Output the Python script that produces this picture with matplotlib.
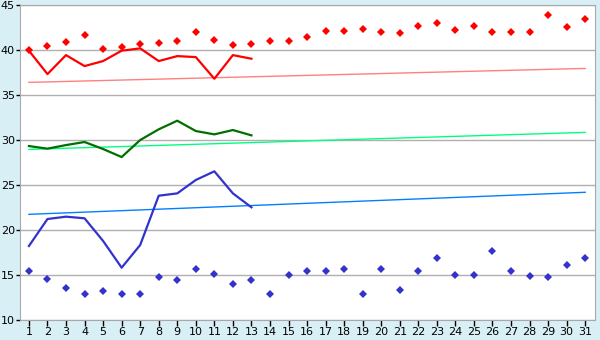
import numpy as np
import matplotlib
matplotlib.use("Agg")
import matplotlib.pyplot as plt

days = np.arange(1, 32)

# daily max / min points (whole month)
max_pts = [40.0, 40.4, 40.85, 41.67, 40.07, 40.3, 40.67, 40.74, 40.96, 41.96,
           41.07, 40.56, 40.67, 40.96, 40.96, 41.4, 42.07, 42.07, 42.3, 41.96,
           41.85, 42.63, 42.96, 42.19, 42.63, 41.96, 41.96, 41.96, 43.85, 42.52,
           43.4]
min_pts = [15.44, 14.52, 13.52, 12.85, 13.19, 12.85, 12.85, 14.74, 14.41, 15.63,
           15.07, 13.96, 14.41, 12.85, 14.96, 15.41, 15.41, 15.63, 12.85, 15.63,
           13.3, 15.41, 16.85, 14.96, 14.96, 17.63, 15.41, 14.85, 14.74, 16.07,
           16.85]

# current month lines (days 1-13)
line_days = np.arange(1, 14)
red_line = [39.93, 37.33, 39.44, 38.22, 38.78, 39.93, 40.19, 38.78, 39.33, 39.22,
            36.81, 39.44, 39.04]
green_line = [29.33, 29.04, 29.44, 29.78, 29.0, 28.11, 30.0, 31.19, 32.15, 31.0,
              30.63, 31.11, 30.52]
blue_line = [18.22, 21.22, 21.48, 21.3, 18.78, 15.81, 18.33, 23.81, 24.07, 25.56,
             26.52, 24.07, 22.52]

# trend lines, start and end values
red_trend = [36.41, 37.96]
green_trend = [28.96, 30.85]
blue_trend = [21.74, 24.19]

bg = "#d9eff6"
fig = plt.figure(figsize=(6, 3.4), dpi=100, facecolor=bg)
ax = fig.add_axes([0.034, 0.059, 0.958, 0.926])
ax.set_facecolor("white")

ax.set_xlim(0.54, 31.54)
ax.set_ylim(10, 45)
ax.set_yticks(range(10, 46, 5))
ax.set_xticks(days)
ax.grid(axis="y", color="#b0b0b0", lw=1)
ax.set_axisbelow(True)

ends = [days[0], days[-1]]
ax.plot(ends, red_trend, color="#ff8080", lw=1)
ax.plot(ends, green_trend, color="#00ff80", lw=1)
ax.plot(ends, blue_trend, color="#0080ff", lw=1)

ax.plot(line_days, red_line, color="#ff0000", lw=1.6)
ax.plot(line_days, green_line, color="#006f00", lw=1.6)
ax.plot(line_days, blue_line, color="#3333cc", lw=1.6)

ax.plot(days, max_pts, "D", color="#ff0000", ms=4, mew=0, ls="none")
ax.plot(days, min_pts, "D", color="#3333cc", ms=4, mew=0, ls="none")

for s in ax.spines.values():
    s.set_color("#a8a8a8")
ax.tick_params(axis="both", colors="black", labelsize=8, length=4, width=1, pad=1)
ax.tick_params(axis="y", length=3)

fig.savefig("out.png", dpi=100, facecolor=bg)
